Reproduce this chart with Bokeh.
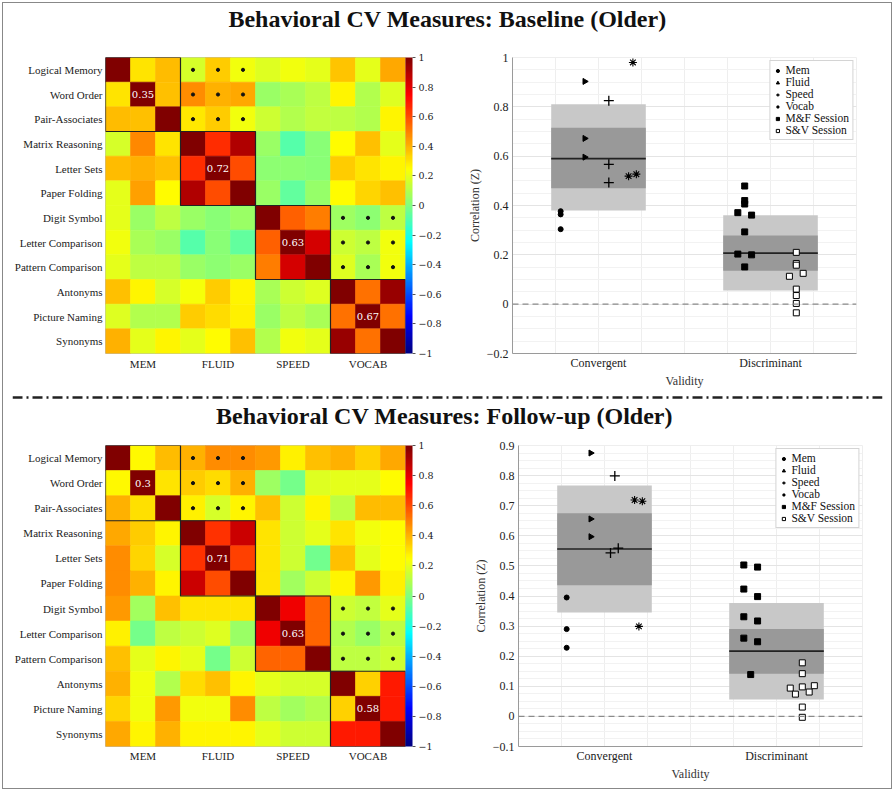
import math
from bokeh.plotting import figure
from bokeh.layouts import column, row
from bokeh.models import (ColumnDataSource, LinearColorMapper, ColorBar, FixedTicker,
                          CustomJSTickFormatter, Range1d, Span, Legend, LegendItem)
from bokeh.transform import transform
from bokeh.embed import file_html
from bokeh.resources import INLINE

# ---------------------------------------------------------------- data
measures = ["Logical Memory", "Word Order", "Pair-Associates", "Matrix Reasoning",
            "Letter Sets", "Paper Folding", "Digit Symbol", "Letter Comparison",
            "Pattern Comparison", "Antonyms", "Picture Naming", "Synonyms"]
domains = ["MEM", "FLUID", "SPEED", "VOCAB"]
titles = ["Behavioral CV Measures: Baseline (Older)",
          "Behavioral CV Measures: Follow-up  (Older)"]

baseline_r = [
    [1.00, 0.30, 0.38, 0.17, 0.35, 0.22, 0.18, 0.22, 0.20, 0.36, 0.20, 0.42],
    [0.30, 1.00, 0.37, 0.47, 0.40, 0.42, 0.05, 0.08, 0.12, 0.27, 0.10, 0.18],
    [0.38, 0.37, 1.00, 0.29, 0.35, 0.22, 0.15, 0.10, 0.13, 0.12, 0.10, 0.27],
    [0.17, 0.48, 0.30, 1.00, 0.66, 0.90, 0.05, -0.08, 0.02, 0.25, 0.37, 0.20],
    [0.38, 0.40, 0.37, 0.66, 1.00, 0.60, 0.03, 0.03, 0.02, 0.35, 0.30, 0.27],
    [0.20, 0.43, 0.25, 0.90, 0.60, 1.00, 0.05, -0.06, 0.04, 0.25, 0.33, 0.37],
    [0.20, 0.05, 0.12, 0.05, 0.02, 0.05, 1.00, 0.56, 0.50, 0.06, 0.03, 0.12],
    [0.22, 0.08, 0.05, -0.08, 0.02, -0.06, 0.56, 1.00, 0.83, 0.15, 0.12, 0.22],
    [0.20, 0.12, 0.12, 0.05, 0.03, 0.05, 0.50, 0.83, 1.00, 0.18, 0.08, 0.22],
    [0.37, 0.27, 0.17, 0.23, 0.35, 0.27, 0.08, 0.15, 0.18, 1.00, 0.53, 0.95],
    [0.18, 0.10, 0.10, 0.35, 0.32, 0.28, 0.05, 0.12, 0.08, 0.53, 1.00, 0.53],
    [0.40, 0.20, 0.27, 0.20, 0.25, 0.37, 0.10, 0.22, 0.20, 0.95, 0.53, 1.00],
]
followup_r = [
    [1.00, 0.26, 0.38, 0.40, 0.47, 0.47, 0.45, 0.28, 0.37, 0.40, 0.34, 0.42],
    [0.26, 1.00, 0.30, 0.35, 0.32, 0.40, 0.06, -0.02, 0.18, 0.20, 0.20, 0.25],
    [0.40, 0.31, 1.00, 0.28, 0.17, 0.27, 0.37, 0.15, 0.27, 0.12, 0.38, 0.38],
    [0.42, 0.35, 0.27, 1.00, 0.65, 0.85, 0.30, 0.15, 0.20, 0.30, 0.22, 0.25],
    [0.47, 0.33, 0.17, 0.65, 1.00, 0.62, 0.30, 0.15, -0.03, 0.37, 0.20, 0.25],
    [0.47, 0.40, 0.27, 0.85, 0.60, 1.00, 0.30, 0.07, 0.15, 0.27, 0.45, 0.28],
    [0.45, 0.07, 0.37, 0.30, 0.30, 0.30, 1.00, 0.78, 0.55, 0.15, 0.13, 0.20],
    [0.28, -0.02, 0.12, 0.15, 0.18, 0.05, 0.78, 1.00, 0.55, 0.10, 0.05, 0.12],
    [0.37, 0.20, 0.27, 0.20, -0.02, 0.15, 0.55, 0.55, 1.00, 0.12, 0.12, 0.15],
    [0.40, 0.22, 0.10, 0.32, 0.37, 0.27, 0.20, 0.17, 0.17, 1.00, 0.34, 0.70],
    [0.33, 0.22, 0.45, 0.22, 0.22, 0.47, 0.12, 0.07, 0.10, 0.34, 1.00, 0.70],
    [0.42, 0.27, 0.40, 0.27, 0.27, 0.27, 0.20, 0.15, 0.15, 0.70, 0.70, 1.00],
]
baseline_block_mean = [0.35, 0.72, 0.63, 0.67]
followup_block_mean = [0.3, 0.71, 0.63, 0.58]
significant_pairs = [("MEM", "FLUID"), ("SPEED", "VOCAB")]
colorbar_ticks = [-1, -0.8, -0.6, -0.4, -0.2, 0, 0.2, 0.4, 0.6, 0.8, 1]

validity_cats = ["Convergent", "Discriminant"]
series_names = ["Mem", "Fluid", "Speed", "Vocab", "M&F Session", "S&V Session"]

# baseline validity points (x = jittered position around category 1 / 2)
b_mem_x = [0.78, 0.78, 0.78]
b_mem_y = [0.377, 0.364, 0.304]
b_fluid_x = [0.92, 0.92, 0.92]
b_fluid_y = [0.903, 0.672, 0.596]
b_speed_x = [1.06, 1.06, 1.06]
b_speed_y = [0.825, 0.567, 0.493]
b_vocab_x = [1.20, 1.175, 1.22]
b_vocab_y = [0.980, 0.519, 0.527]
b_mf_x = [1.85, 1.85, 1.85, 1.81, 1.89, 1.85, 1.81, 1.89, 1.85]
b_mf_y = [0.479, 0.420, 0.406, 0.371, 0.361, 0.293, 0.203, 0.200, 0.151]
b_sv_x = [2.15, 2.15, 2.15, 2.11, 2.19, 2.15, 2.15, 2.15, 2.15]
b_sv_y = [0.210, 0.165, 0.158, 0.113, 0.125, 0.061, 0.035, 0.003, -0.035]
# box: low, q1, median, q3, high  (Convergent, Discriminant)
b_box_low = [0.380, 0.055]
b_box_q1 = [0.470, 0.135]
b_box_med = [0.590, 0.207]
b_box_q3 = [0.715, 0.278]
b_box_high = [0.810, 0.360]

# follow-up validity points
f_mem_x = [0.78, 0.78, 0.78]
f_mem_y = [0.395, 0.290, 0.228]
f_fluid_x = [0.92, 0.92, 0.92]
f_fluid_y = [0.875, 0.656, 0.597]
f_speed_x = [1.06, 1.035, 1.08]
f_speed_y = [0.799, 0.543, 0.559]
f_vocab_x = [1.175, 1.22, 1.20]
f_vocab_y = [0.719, 0.715, 0.299]
f_mf_x = [1.81, 1.89, 1.81, 1.89, 1.81, 1.89, 1.81, 1.89, 1.85]
f_mf_y = [0.503, 0.496, 0.423, 0.398, 0.331, 0.317, 0.260, 0.248, 0.139]
f_sv_x = [2.15, 2.15, 2.15, 2.08, 2.11, 2.19, 2.22, 2.15, 2.15]
f_sv_y = [0.178, 0.142, 0.098, 0.094, 0.074, 0.081, 0.102, 0.031, -0.003]
f_box_low = [0.345, 0.056]
f_box_q1 = [0.436, 0.142]
f_box_med = [0.556, 0.217]
f_box_q3 = [0.675, 0.290]
f_box_high = [0.767, 0.377]

b_yticks = [-0.2, 0, 0.2, 0.4, 0.6, 0.8, 1]
f_yticks = [-0.1, 0, 0.1, 0.2, 0.3, 0.4, 0.5, 0.6, 0.7, 0.8, 0.9]

# ---------------------------------------------------------------- style
SERIF = "Liberation Serif"
NUMF = "DejaVu Serif"
W = 888
HM_W = 446
SC_W = W - HM_W


def jet(n=256):
    out = []
    for i in range(n):
        t = i / (n - 1)
        r = min(max(1.5 - abs(4 * t - 3), 0), 1)
        g = min(max(1.5 - abs(4 * t - 2), 0), 1)
        b = min(max(1.5 - abs(4 * t - 1), 0), 1)
        out.append("#%02x%02x%02x" % (round(r * 255), round(g * 255), round(b * 255)))
    return out


num_fmt = CustomJSTickFormatter(
    code="var s = (Math.round(tick*10)/10).toString(); return s.replace('-', '\u2212');")

marker_style = {
    "Mem": dict(marker="circle", size=5, fill_color="black", line_width=1, angle=0),
    "Fluid": dict(marker="triangle", size=6, fill_color="black", line_width=1, angle=-math.pi / 2),
    "Speed": dict(marker="cross", size=10, fill_color="black", line_width=1.3, angle=0),
    "Vocab": dict(marker="asterisk", size=8, fill_color="black", line_width=1.1, angle=0),
    "M&F Session": dict(marker="square", size=6, fill_color="black", line_width=1, angle=0),
    "S&V Session": dict(marker="square", size=6, fill_color="white", line_width=1, angle=0),
}


def title_fig(text, h, top):
    p = figure(width=W, height=h, toolbar_location=None, output_backend="svg",
               x_axis_location=None, y_axis_location=None, min_border=0,
               min_border_top=top, x_range=Range1d(0, 1), y_range=Range1d(0, 1))
    p.outline_line_color = None
    p.grid.visible = False
    p.title.text = text
    p.title.align = "center"
    p.title.text_font = SERIF
    p.title.text_font_size = "24px"
    p.title.text_font_style = "bold"
    p.title.text_color = "#111111"
    p.title.standoff = 0
    p.title.offset = 0
    return p


def sep_fig(h):
    p = figure(width=W, height=h, toolbar_location=None, output_backend="svg",
               x_axis_location=None, y_axis_location=None, min_border=0,
               min_border_left=9, min_border_right=9,
               x_range=Range1d(0, 1), y_range=Range1d(0, 1))
    p.outline_line_color = None
    p.grid.visible = False
    p.add_layout(Span(location=0.5, dimension="width", line_color="#222222",
                      line_width=2.5, line_dash="10 4 2 4"))
    return p


def heatmap_fig(mat, means, top, plot_h, bottom, xstand):
    n = len(measures)
    mapper = LinearColorMapper(palette=jet(), low=-1, high=1)
    src = ColumnDataSource(dict(
        col=[j for i in range(n) for j in range(n)],
        rowi=[i for i in range(n) for j in range(n)],
        r=[mat[i][j] for i in range(n) for j in range(n)]))
    p = figure(width=HM_W, height=top + plot_h + bottom, toolbar_location=None,
               output_backend="svg", x_range=Range1d(-0.5, n - 0.5),
               y_range=Range1d(n - 0.5, -0.5), min_border_left=102,
               min_border_right=HM_W - 102 - 300, min_border_top=top,
               min_border_bottom=bottom)
    p.grid.visible = False
    p.outline_line_color = "#bbbbbb"
    p.rect(x="col", y="rowi", width=1, height=1, source=src,
           fill_color=transform("r", mapper), line_color=transform("r", mapper),
           line_width=0.6)
    # significance marks
    sx, sy = [], []
    for a, b in significant_pairs:
        ia, ib = domains.index(a), domains.index(b)
        for i in range(3):
            for j in range(3):
                sy.append(ia * 3 + i)
                sx.append(ib * 3 + j)
    p.scatter(x=sx, y=sy, marker="circle", size=3.2, fill_color="#111111",
              line_color="#111111")
    centers = [k * 3 + 1 for k in range(len(domains))]
    p.rect(x=centers, y=centers, width=3, height=3, fill_color=None,
           line_color="#222222", line_width=1.2)
    p.text(x=centers, y=centers, text=[str(m) for m in means], text_color="white",
           text_font={"value": NUMF}, text_font_size={"value": "10px"},
           text_align="center", text_baseline="middle")
    p.yaxis.ticker = FixedTicker(ticks=list(range(n)))
    p.yaxis.major_label_overrides = {i: m for i, m in enumerate(measures)}
    p.xaxis.ticker = FixedTicker(ticks=centers)
    p.xaxis.major_label_overrides = {c: d for c, d in zip(centers, domains)}
    for ax in (p.xaxis, p.yaxis):
        ax.axis_line_color = None
        ax.major_tick_line_color = None
        ax.minor_tick_line_color = None
        ax.major_tick_out = 0
        ax.minor_tick_out = 0
        ax.major_label_text_font = SERIF
        ax.major_label_text_font_size = "11px"
        ax.major_label_text_color = "#222222"
    p.yaxis.major_label_standoff = 3
    p.xaxis.major_label_standoff = xstand
    cb = ColorBar(color_mapper=mapper, ticker=FixedTicker(ticks=colorbar_ticks),
                  formatter=num_fmt, width=7, padding=0, margin=4, label_standoff=3,
                  major_label_text_font=NUMF, major_label_text_font_size="9.5px",
                  major_label_text_color="#222222",
                  major_tick_in=0, major_tick_out=3, major_tick_line_color="#555555",
                  bar_line_color=None, border_line_color=None,
                  background_fill_color=None)
    p.add_layout(cb, "right")
    return p


def validity_fig(points, lows, q1s, meds, q3s, highs, yr, yticks, top, plot_h,
                 bottom, left):
    p = figure(width=SC_W, height=top + plot_h + bottom, toolbar_location=None,
               output_backend="svg", x_range=Range1d(0.5, 2.5),
               y_range=Range1d(*yr), min_border_left=left,
               min_border_right=SC_W - left - 344, min_border_top=top,
               min_border_bottom=bottom)
    p.outline_line_color = "#eeeeee"
    centers = [1, 2]
    hw = 0.275
    bsrc = ColumnDataSource(dict(l=[c - hw for c in centers], r=[c + hw for c in centers],
                                 lo=lows, q1=q1s, med=meds, q3=q3s, hi=highs))
    p.quad(left="l", right="r", bottom="lo", top="hi", source=bsrc,
           fill_color="#c8c8c8", line_color=None)
    p.quad(left="l", right="r", bottom="q1", top="q3", source=bsrc,
           fill_color="#999999", line_color=None)
    p.segment(x0="l", x1="r", y0="med", y1="med", source=bsrc,
              line_color="#222222", line_width=1.6)
    p.add_layout(Span(location=0, dimension="width", line_color="#8a8a8a",
                      line_width=1.3, line_dash="6 4"))
    items = []
    for name in series_names:
        xs, ys = points[name]
        st = marker_style[name]
        r = p.scatter(x=xs, y=ys, marker=st["marker"], size=st["size"],
                      fill_color=st["fill_color"], line_color="black",
                      line_width=st["line_width"], angle=st["angle"])
        items.append(LegendItem(label=name, renderers=[r]))
    leg = Legend(items=items, location="top_right", border_line_color="#aaaaaa",
                 border_line_width=1.3, background_fill_color="white",
                 background_fill_alpha=1, label_text_font=SERIF,
                 label_text_font_size="11.5px", label_text_color="#111111",
                 glyph_width=8, glyph_height=9, label_height=9, spacing=0,
                 padding=3, margin=3, label_standoff=4)
    p.add_layout(leg)
    # axes
    p.xaxis.ticker = FixedTicker(ticks=centers)
    p.xaxis.major_label_overrides = {c: t for c, t in zip(centers, validity_cats)}
    p.yaxis.ticker = FixedTicker(ticks=yticks, minor_ticks=[
        round(t + d * (yticks[1] - yticks[0]) / 4, 4) for t in yticks for d in (1, 2, 3)])
    p.yaxis.formatter = num_fmt
    p.xaxis.axis_label = "Validity"
    p.yaxis.axis_label = "Correlation (Z)"
    for ax in (p.xaxis, p.yaxis):
        ax.axis_line_color = "#9a9a9a"
        ax.major_tick_line_color = None
        ax.minor_tick_line_color = None
        ax.major_tick_out = 0
        ax.minor_tick_out = 0
        ax.major_label_text_color = "#222222"
        ax.axis_label_text_font = SERIF
        ax.axis_label_text_font_size = "12px"
        ax.axis_label_text_font_style = "normal"
        ax.axis_label_text_color = "#333333"
    p.xaxis.major_label_text_font = SERIF
    p.xaxis.major_label_text_font_size = "12px"
    p.yaxis.major_label_text_font = SERIF
    p.yaxis.major_label_text_font_size = "12px"
    p.xaxis.major_label_standoff = 2
    p.xaxis.axis_label_standoff = 1
    p.yaxis.major_label_standoff = 4
    p.yaxis.axis_label_standoff = 2
    p.ygrid.grid_line_color = "#e4e4e4"
    p.ygrid.minor_grid_line_color = "#f2f2f2"
    p.xgrid.ticker = FixedTicker(ticks=[0.75, 1, 1.25, 1.5, 1.75, 2, 2.25])
    p.xgrid.grid_line_color = "#eeeeee"
    return p


b_points = {"Mem": (b_mem_x, b_mem_y), "Fluid": (b_fluid_x, b_fluid_y),
            "Speed": (b_speed_x, b_speed_y), "Vocab": (b_vocab_x, b_vocab_y),
            "M&F Session": (b_mf_x, b_mf_y), "S&V Session": (b_sv_x, b_sv_y)}
f_points = {"Mem": (f_mem_x, f_mem_y), "Fluid": (f_fluid_x, f_fluid_y),
            "Speed": (f_speed_x, f_speed_y), "Vocab": (f_vocab_x, f_vocab_y),
            "M&F Session": (f_mf_x, f_mf_y), "S&V Session": (f_sv_x, f_sv_y)}

t1 = title_fig(titles[0], 45, 7)
hm1 = heatmap_fig(baseline_r, baseline_block_mean, 9, 300, 33, 4)
sc1 = validity_fig(b_points, b_box_low, b_box_q1, b_box_med, b_box_q3, b_box_high,
                   (-0.2, 1.0), b_yticks, 9, 300, 33, 63)
sep = sep_fig(10)
t2 = title_fig(titles[1], 38, 6)
hm2 = heatmap_fig(followup_r, followup_block_mean, 7, 301, 42, 3)
sc2 = validity_fig(f_points, f_box_low, f_box_q1, f_box_med, f_box_q3, f_box_high,
                   (-0.1, 0.9), f_yticks, 7, 301, 42, 69)

layout = column(t1, row(hm1, sc1), sep, t2, row(hm2, sc2),
                styles={"border": "1px solid #888888", "margin": "2px"})

open("out.html", "w").write(file_html(layout, INLINE))
